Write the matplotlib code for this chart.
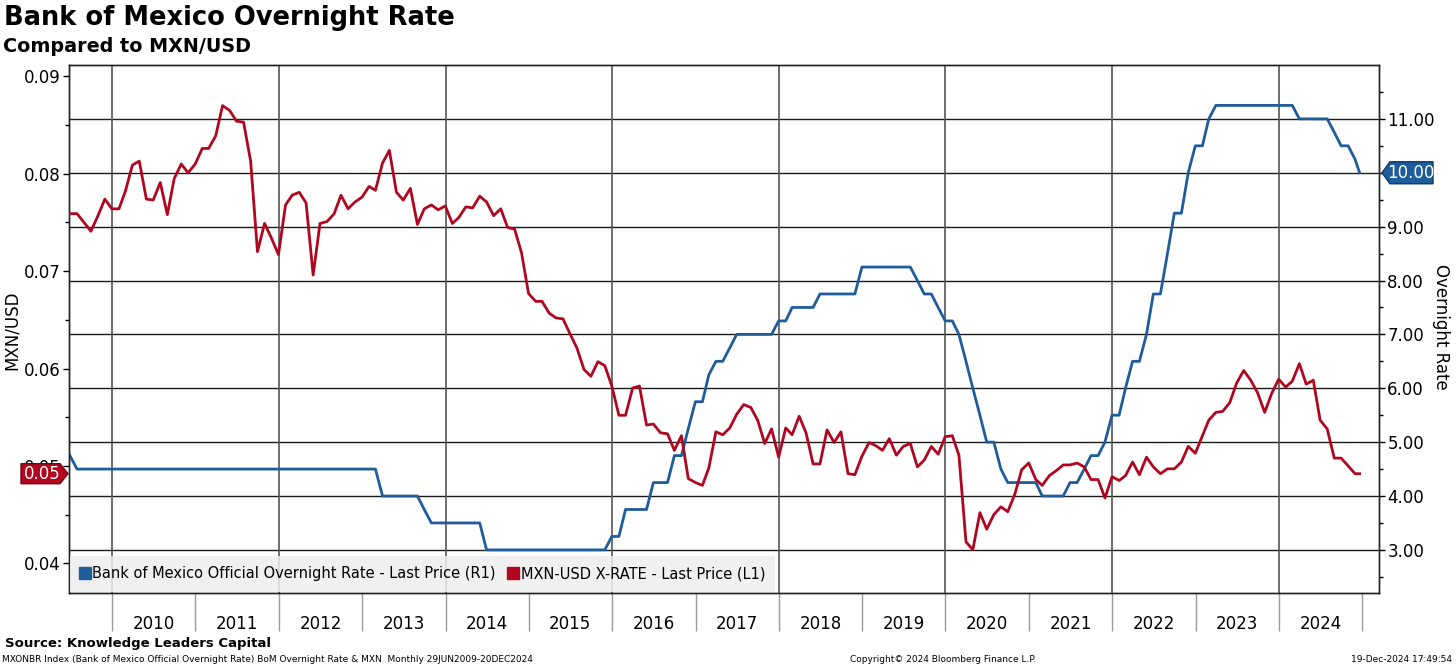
#!/usr/bin/env python3
from __future__ import annotations

import matplotlib

matplotlib.use("Agg")
import matplotlib.dates as mdates
import matplotlib.pyplot as plt
import matplotlib.transforms as mtransforms
import pandas as pd
from matplotlib.lines import Line2D
from matplotlib.patches import Polygon

# monthly observations, 29-Jun-2009 .. 20-Dec-2024
first_month = "2009-06-30"
last_obs = "2024-12-20"

# Bank of Mexico official overnight rate (%), right axis
overnight_rate = [
    4.75, 4.50, 4.50, 4.50, 4.50, 4.50, 4.50,                            # 2009 Jun-Dec
    4.50, 4.50, 4.50, 4.50, 4.50, 4.50, 4.50, 4.50, 4.50, 4.50, 4.50, 4.50,  # 2010
    4.50, 4.50, 4.50, 4.50, 4.50, 4.50, 4.50, 4.50, 4.50, 4.50, 4.50, 4.50,  # 2011
    4.50, 4.50, 4.50, 4.50, 4.50, 4.50, 4.50, 4.50, 4.50, 4.50, 4.50, 4.50,  # 2012
    4.50, 4.50, 4.00, 4.00, 4.00, 4.00, 4.00, 4.00, 3.75, 3.50, 3.50, 3.50,  # 2013
    3.50, 3.50, 3.50, 3.50, 3.50, 3.00, 3.00, 3.00, 3.00, 3.00, 3.00, 3.00,  # 2014
    3.00, 3.00, 3.00, 3.00, 3.00, 3.00, 3.00, 3.00, 3.00, 3.00, 3.00, 3.25,  # 2015
    3.25, 3.75, 3.75, 3.75, 3.75, 4.25, 4.25, 4.25, 4.75, 4.75, 5.25, 5.75,  # 2016
    5.75, 6.25, 6.50, 6.50, 6.75, 7.00, 7.00, 7.00, 7.00, 7.00, 7.00, 7.25,  # 2017
    7.25, 7.50, 7.50, 7.50, 7.50, 7.75, 7.75, 7.75, 7.75, 7.75, 7.75, 8.25,  # 2018
    8.25, 8.25, 8.25, 8.25, 8.25, 8.25, 8.25, 8.00, 7.75, 7.75, 7.50, 7.25,  # 2019
    7.25, 7.00, 6.50, 6.00, 5.50, 5.00, 5.00, 4.50, 4.25, 4.25, 4.25, 4.25,  # 2020
    4.25, 4.00, 4.00, 4.00, 4.00, 4.25, 4.25, 4.50, 4.75, 4.75, 5.00, 5.50,  # 2021
    5.50, 6.00, 6.50, 6.50, 7.00, 7.75, 7.75, 8.50, 9.25, 9.25, 10.00, 10.50,  # 2022
    10.50, 11.00, 11.25, 11.25, 11.25, 11.25, 11.25, 11.25, 11.25, 11.25, 11.25, 11.25,  # 2023
    11.25, 11.25, 11.00, 11.00, 11.00, 11.00, 11.00, 10.75, 10.50, 10.50, 10.25, 10.00,  # 2024
]

# MXN-USD exchange rate, left axis
mxn_usd = [
    0.0759, 0.0759, 0.0750, 0.0741, 0.0757, 0.0774, 0.0764,                      # 2009 Jun-Dec
    0.0764, 0.0782, 0.0809, 0.0813, 0.0774, 0.0773, 0.0791, 0.0758, 0.0795, 0.0810, 0.0801, 0.0810,  # 2010
    0.0826, 0.0826, 0.0839, 0.0870, 0.0865, 0.0854, 0.0853, 0.0813, 0.0720, 0.0749, 0.0734, 0.0717,  # 2011
    0.0768, 0.0778, 0.0781, 0.0770, 0.0696, 0.0749, 0.0751, 0.0759, 0.0778, 0.0764, 0.0771, 0.0776,  # 2012
    0.0787, 0.0783, 0.0811, 0.0824, 0.0781, 0.0773, 0.0785, 0.0748, 0.0764, 0.0768, 0.0763, 0.0767,  # 2013
    0.0749, 0.0755, 0.0766, 0.0765, 0.0777, 0.0771, 0.0757, 0.0764, 0.0745, 0.0743, 0.0719, 0.0677,  # 2014
    0.0669, 0.0669, 0.0657, 0.0652, 0.0651, 0.0636, 0.0621, 0.0599, 0.0592, 0.0607, 0.0603, 0.0582,  # 2015
    0.0552, 0.0552, 0.0580, 0.0582, 0.0542, 0.0543, 0.0534, 0.0533, 0.0516, 0.0531, 0.0487, 0.0483,  # 2016
    0.0480, 0.0498, 0.0535, 0.0532, 0.0539, 0.0553, 0.0563, 0.0560, 0.0547, 0.0523, 0.0538, 0.0509,  # 2017
    0.0539, 0.0532, 0.0551, 0.0534, 0.0502, 0.0502, 0.0537, 0.0524, 0.0535, 0.0492, 0.0491, 0.0510,  # 2018
    0.0524, 0.0521, 0.0516, 0.0528, 0.0511, 0.0520, 0.0523, 0.0499, 0.0506, 0.0520, 0.0512, 0.0530,  # 2019
    0.0531, 0.0511, 0.0422, 0.0414, 0.0452, 0.0435, 0.0450, 0.0458, 0.0453, 0.0471, 0.0496, 0.0503,  # 2020
    0.0486, 0.0480, 0.0490, 0.0495, 0.0501, 0.0501, 0.0503, 0.0499, 0.0486, 0.0486, 0.0467, 0.0489,  # 2021
    0.0485, 0.0490, 0.0504, 0.0491, 0.0509, 0.0499, 0.0492, 0.0497, 0.0497, 0.0504, 0.0520, 0.0513,  # 2022
    0.0531, 0.0547, 0.0555, 0.0556, 0.0565, 0.0585, 0.0598, 0.0588, 0.0575, 0.0555, 0.0574, 0.0589,  # 2023
    0.0581, 0.0587, 0.0605, 0.0584, 0.0588, 0.0547, 0.0538, 0.0508, 0.0508, 0.0500, 0.0492, 0.0492,  # 2024
]

year_labels = [str(y) for y in range(2010, 2025)]
left_ticks = [0.04, 0.05, 0.06, 0.07, 0.08, 0.09]
right_ticks = [3.0, 4.0, 5.0, 6.0, 7.0, 8.0, 9.0, 10.0, 11.0]

BLUE = "#1f5c9c"
RED = "#b0061f"
TITLE = "Bank of Mexico Overnight Rate"
SUBTITLE = "Compared to MXN/USD"
LEGEND_BLUE = "Bank of Mexico Official Overnight Rate - Last Price (R1)"
LEGEND_RED = "MXN-USD X-RATE - Last Price (L1)"


def add_tag(fig, ax, yval, text, color, edge, side):
    # Bloomberg style value flag, drawn in pixel offsets from the spine
    px = 1 / fig.dpi
    if side == "right":
        anchor = mtransforms.ScaledTranslation(1.0, yval, ax.get_yaxis_transform())
        verts = [(3, 0), (11, 11), (54, 11), (54, -11), (11, -11)]
        tx = 32
    else:
        anchor = mtransforms.ScaledTranslation(0.0, yval, ax.get_yaxis_transform())
        verts = [(-1, 0), (-9, 10), (-48, 10), (-48, -10), (-9, -10)]
        tx = -27
    trans = fig.dpi_scale_trans + anchor
    poly = Polygon([(x * px, y * px) for x, y in verts], closed=True, transform=trans,
                   facecolor=color, edgecolor=edge, lw=1, clip_on=False, zorder=10)
    ax.add_patch(poly)
    ax.text(tx * px, 0, text, transform=trans, color="white", fontsize=12,
            ha="center", va="center", clip_on=False, zorder=11)


def main() -> None:
    dates = pd.date_range(first_month, periods=len(mxn_usd), freq="ME")
    dates = dates[:-1].append(pd.DatetimeIndex([last_obs]))

    fig = plt.figure(figsize=(14.56, 6.66), dpi=100)
    ax = fig.add_axes([69 / 1456, 1 - 593 / 666, (1379 - 69) / 1456, (593 - 65) / 666])
    ax_l = ax.twinx()
    ax.yaxis.tick_right()
    ax_l.yaxis.tick_left()

    # overnight rate on the base axes (carries the horizontal grid)
    ax.plot(dates, overnight_rate, color=BLUE, lw=2.0, zorder=3)
    ax.set_ylim(2.2, 12.0)
    ax.set_yticks(right_ticks)
    ax.set_yticks([v + 0.5 for v in [2.0] + right_ticks], minor=True)
    ax.yaxis.set_major_formatter(matplotlib.ticker.FormatStrFormatter("%.2f"))
    ax.grid(axis="y", color="#1a1a1a", lw=1.0, zorder=1)
    ax.set_axisbelow(True)
    for yr in range(2010, 2025, 2):
        ax.axvline(pd.Timestamp(f"{yr}-01-01"), color="#555555", lw=1.2, zorder=1)

    # MXN/USD on the twin axes with the y axis moved to the left
    ax_l.plot(dates, mxn_usd, color=RED, lw=2.0, zorder=4)
    ax_l.set_ylim(0.03695, 0.09117)
    ax_l.set_yticks(left_ticks)
    ax_l.set_yticks([v + 0.005 for v in left_ticks[:-1]], minor=True)
    ax_l.yaxis.set_major_formatter(matplotlib.ticker.FormatStrFormatter("%.2f"))

    for a in (ax, ax_l):
        a.tick_params(axis="y", which="major", length=4, width=1, labelsize=12, pad=2)
        a.tick_params(axis="y", which="minor", length=3, width=1)
        for s in a.spines.values():
            s.set_color("#222222")
            s.set_linewidth(1.0)

    ax.set_xlim(pd.Timestamp("2009-06-26"), pd.Timestamp("2025-03-15"))
    # year separators below the plot and centred year labels
    ax.set_xticks([pd.Timestamp(f"{y}-01-01") for y in range(2010, 2026)])
    ax.set_xticks([pd.Timestamp(f"{y}-07-02") for y in range(2010, 2025)], minor=True)
    ax.xaxis.set_major_formatter(matplotlib.ticker.NullFormatter())
    ax.xaxis.set_minor_formatter(mdates.DateFormatter("%Y"))
    ax.tick_params(axis="x", which="major", length=27, width=1, color="#999999")
    ax.tick_params(axis="x", which="minor", length=0, labelsize=12, pad=16)
    ax_l.tick_params(axis="x", which="both", length=0, labelbottom=False)

    handles = [
        Line2D([], [], ls="none", marker="s", markersize=8, color=BLUE),
        Line2D([], [], ls="none", marker="s", markersize=8, color=RED),
    ]
    leg = ax_l.legend(handles, [LEGEND_BLUE, LEGEND_RED], loc="lower left",
                      bbox_to_anchor=(0, 0), borderaxespad=0.1, ncol=2, fontsize=10.5,
                      handlelength=0.6, handletextpad=0.2, columnspacing=0.9,
                      frameon=True, fancybox=False, facecolor="#eeeeee", edgecolor="none",
                      framealpha=0.85, borderpad=0.7)
    leg.set_zorder(8)

    add_tag(fig, ax, overnight_rate[-1], f"{overnight_rate[-1]:.2f}", BLUE, "#0e3a66", "right")
    add_tag(fig, ax_l, mxn_usd[-1], f"{mxn_usd[-1]:.2f}", RED, "#7a0014", "left")

    fig.text(12 / 1456, 1 - 330 / 666, "MXN/USD", rotation=90, ha="center", va="center", fontsize=12)
    fig.text(1441 / 1456, 1 - 327 / 666, "Overnight Rate", rotation=270, ha="center",
             va="center", fontsize=12)

    fig.text(4 / 1456, 1 - 18 / 666, TITLE, fontsize=18.5, fontweight="bold", va="center")
    fig.text(3 / 1456, 1 - 46 / 666, SUBTITLE, fontsize=13.8, fontweight="bold", va="center")
    fig.text(5 / 1456, 1 - 643 / 666, "Source: Knowledge Leaders Capital", fontsize=9.5,
             fontweight="bold", va="center")
    fig.text(2 / 1456, 1 - 659 / 666,
             "MXONBR Index (Bank of Mexico Official Overnight Rate) BoM Overnight Rate & MXN  "
             "Monthly 29JUN2009-20DEC2024", fontsize=6.5, va="center")
    fig.text(943 / 1456, 1 - 659 / 666, "Copyright\u00a9 2024 Bloomberg Finance L.P.",
             fontsize=6.5, va="center", ha="center")
    fig.text(1452 / 1456, 1 - 659 / 666, "19-Dec-2024 17:49:54", fontsize=6.5,
             va="center", ha="right")

    fig.savefig("out.png", dpi=100)
    plt.close(fig)


if __name__ == "__main__":
    main()
